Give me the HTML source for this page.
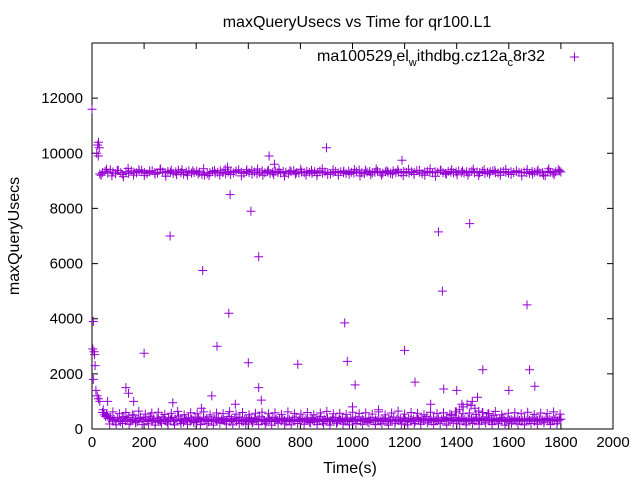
<!DOCTYPE html>
<html><head><meta charset="utf-8"><style>
body{margin:0;background:#fff}
svg{display:block;font-family:"Liberation Sans",sans-serif}
</style></head><body>
<svg id="chart" width="640" height="480">
<text x="357" y="27" font-size="16" text-anchor="middle">maxQueryUsecs vs Time for qr100.L1</text>
<text x="350" y="473" font-size="16" text-anchor="middle">Time(s)</text>
<text transform="translate(19,236) rotate(-90)" font-size="16" text-anchor="middle">maxQueryUsecs</text>
<g id="axes"></g>
<g id="pts" stroke="#9400d3" stroke-width="1" fill="none"></g>
<g>
<text x="545" y="61" font-size="16" text-anchor="end">ma100529<tspan font-size="11" dy="5">r</tspan><tspan dy="-5">el</tspan><tspan font-size="11" dy="5">w</tspan><tspan dy="-5">ithdbg.cz12a</tspan><tspan font-size="11" dy="5">c</tspan><tspan dy="-5">8r32</tspan></text>
<path d="M570 57h9M574.5 52.5v9" stroke="#9400d3"/>
</g>
</svg>
<script>
const xTicks=[0,200,400,600,800,1000,1200,1400,1600,1800,2000];
const yTicks=[0,2000,4000,6000,8000,10000,12000];
const upperStart=30, upperEnd=1800;
const upperValues=[9250,9300,9350,9280,9400,9320,9260,9380,9300,9150,9330,9270,9360,9310,9290,9340,9380,9300,9260,9330,9370,9300,9280,9410,9320,9290,9350,9310,9270,9330,9390,9300,9240,9320,9360,9280,9300,9350,9310,9230,9200,9260,9300,9340,9280,9310,9370,9300,9260,9320,9350,9290,9330,9400,9310,9270,9340,9300,9380,9320,9250,9300,9360,9290,9330,9270,9310,9350,9300,9280,9340,9310,9260,9330,9370,9300,9280,9320,9290,9350,9310,9270,9330,9300,9360,9280,9320,9300,9250,9310,9340,9290,9330,9300,9270,9350,9310,9280,9330,9390,9300,9260,9320,9340,9290,9310,9350,9300,9280,9330,9310,9270,9360,9300,9320,9290,9340,9310,9280,9330,9300,9370,9310,9260,9320,9350,9300,9290,9330,9310,9380,9300,9270,9340,9310,9290,9320,9360,9300,9280,9330,9310,9350,9290,9320,9300,9340,9270,9310,9330,9360,9300,9290,9320,9340,9310,9280,9330,9300,9350,9310,9290,9320,9300,9270,9340,9310,9330,9290,9300,9180,9350,9310,9280,9330,9400,9320];
const upperValues2=[9200,9420,9180,9380,9230,9450,9210,9400,9190,9360,9240,9430,9170,9390,9220,9410,9200,9370,9250,9440,9190,9380,9210,9420,9230,9360,9180,9400,9240,9430,9200,9390,9220,9410,9170,9370,9250,9420,9210,9380,9190,9440,9230,9400,9200,9360,9240,9410,9180,9390,9220,9430,9210,9370,9250,9400,9190,9420,9230,9380,9200,9440,9170,9390,9240,9410,9220,9360,9210,9430,9190,9400,9250,9380,9200,9420,9230,9370,9180,9410,9240,9390,9210,9440,9220,9360];
const lowerStart=40, lowerEnd=1800;
const lowerValues=[600,520,450,480,380,420,300,350,280,410,330,260,390,450,300,360,420,280,340,500,310,260,380,430,290,350,410,270,330,460,300,370,250,400,320,280,440,350,300,260,390,330,420,280,360,310,470,290,340,250,380,320,410,270,350,300,430,260,370,330,290,400,310,350,270,440,320,280,360,300,410,250,340,380,290,320,450,270,350,310,390,280,330,420,300,260,360,340,290,410,320,270,380,300,350,440,280,330,310,260,390,350,300,420,270,340,310,380,290,360,320,260,400,330,280,350,310,430,270,340,300,380,290,360,320,250,410,340,280,370,300,330,450,270,350,310,390,280,320,360,300,420,260,340,310,380,290,350,330,270,400,310,290,360,320,440,280,350,300,380,260,340,320,410,290,330,300,370,280,350,310,390,270,340,320,300,430,280,360,310,350,290,400,330,270,380,320,300,360,280,410,340,290,370,310,330,450,300,350,280,390,320,300,360,270,340,420,310,380,290,330,360,300,410,280,350,320,390,300,340,280,370,310,360,330,290,400,320,350,300,380,310,430,340,290,360,320,300,380,280,350,330,410,300,270,360,320,340,300,390,280,350,310,330,300,370,290,350,320,300,400,280,340,310,360,300,330,290,380,310,350,320,300,340,410,290,330,360];
const lowerValues2=[700,550,180,620,150,560,200,600,170,520,220,650,160,540,190,580,140,610,210,530,180,570,150,640,200,520,170,590,230,550,160,620,190,510,140,580,210,560,180,630,150,540,200,600,170,520,220,570,160,610,190,550,140,590,210,530,180,620,150,560,200,540,170,600,230,520,160,580,190,640,140,550,210,570,180,530,150,610,200,560,170,590,220,540,160,620,190,510,140,580,210,650,180,540,150,600,200,570,170,520,230,610,160,560,190,590,140,540,210,620,180,550,150,580,200,530,170,600,220,560,160,640,190,520,140,570,210,590,180,550,150,610,200,530,170,580,230,560,160,620,190,540];
const bumpTimes=[1380,1395,1410,1425,1440,1455,1470,1485,1500,1520,1540];
const bumpValues=[500,620,700,800,900,850,750,650,600,550,500];
const outlierTimes=[0,5,3,8,10,12,5,15,20,25,30,18,22,25,28,24,60,130,140,200,300,425,480,525,530,520,600,610,640,640,680,700,790,900,970,980,1010,1190,1200,1240,1330,1345,1350,1400,1450,1500,1600,1670,1680,1700,310,160,420,460,550,650,1000,1100,1300,1420,1460,1480];
const outlierValues=[11600,3900,2900,2800,2700,2300,1800,1400,1200,1100,1000,10000,10300,10400,10200,9900,1000,1500,1300,2750,7000,5750,3000,4200,8500,9500,2400,7900,6250,1500,9900,9600,2350,10200,3850,2450,1600,9750,2850,1700,7150,5000,1450,1400,7450,2150,1400,4500,2150,1550,950,1000,750,1200,900,1050,800,700,900,900,1000,1150];

const L=92,R=613,T=43,B=429;
const xS=v=>L+(v/2000)*(R-L);
const yS=v=>B-(v/14000)*(B-T);
const NS="http://www.w3.org/2000/svg";
const axes=document.getElementById('axes');
const frame=document.createElementNS(NS,'rect');
frame.setAttribute('x',L);frame.setAttribute('y',T);frame.setAttribute('width',R-L);frame.setAttribute('height',B-T);
frame.setAttribute('fill','none');frame.setAttribute('stroke','#000');


axes.appendChild(frame);
xTicks.forEach(t=>{
  const x=xS(t);
  const p=document.createElementNS(NS,'path');
  p.setAttribute('d',`M${x} ${B}v-6M${x} ${T}v6`);p.setAttribute('stroke','#000');
  
  
  axes.appendChild(p);
  const tx=document.createElementNS(NS,'text');
  tx.setAttribute('x',x);tx.setAttribute('y',B+18);tx.setAttribute('font-size','15');tx.setAttribute('text-anchor','middle');
  tx.textContent=t;
  
  
  axes.appendChild(tx);
});
yTicks.forEach(t=>{
  const y=yS(t);
  const p=document.createElementNS(NS,'path');
  p.setAttribute('d',`M${L} ${y}h6M${R} ${y}h-6`);p.setAttribute('stroke','#000');
  
  
  axes.appendChild(p);
  const tx=document.createElementNS(NS,'text');
  tx.setAttribute('x',L-9);tx.setAttribute('y',y+5);tx.setAttribute('font-size','15');tx.setAttribute('text-anchor','end');
  tx.textContent=t;
  
  
  axes.appendChild(tx);
});
const pts=document.getElementById('pts');
let d='';
const add=(t,v)=>{const x=xS(t),y=yS(v);d+=`M${(x-4.5).toFixed(1)} ${y.toFixed(1)}h9M${x.toFixed(1)} ${(y-4.5).toFixed(1)}v9`;};
const series=(vals,s,e)=>{const st=(e-s)/(vals.length-1);vals.forEach((v,i)=>add(s+i*st,v));};
series(upperValues,upperStart,upperEnd);
series(upperValues2,upperStart+5,upperEnd-5);
series(lowerValues,lowerStart,lowerEnd);
series(lowerValues2,lowerStart+3,lowerEnd-3);
bumpValues.forEach((v,i)=>add(bumpTimes[i],v));
outlierValues.forEach((v,i)=>add(outlierTimes[i],v));
const path=document.createElementNS(NS,'path');
path.setAttribute('d',d);


pts.appendChild(path);
</script>
</body></html>
